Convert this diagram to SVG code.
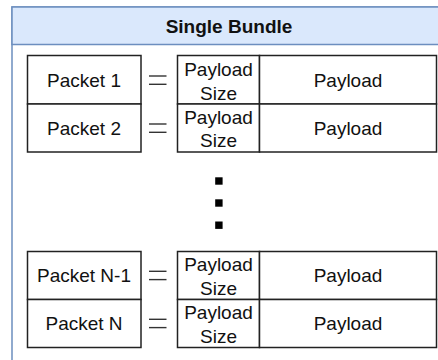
<svg xmlns="http://www.w3.org/2000/svg" width="438" height="360" viewBox="0 0 438 360">
<style>
.cell{fill:#ffffff;stroke:#222222;stroke-width:1.5}
.eq{stroke:#333333;stroke-width:1.4}
text{font-family:"Liberation Sans",Arial,sans-serif;font-size:19px;fill:#111111;text-anchor:middle}
.title{font-weight:bold}
.dot{fill:#000000}
</style>
<g id="bundle">
<rect x="12" y="7" width="434" height="400" fill="#ffffff" stroke="#6c8ebf" stroke-width="1.5"/>
<rect x="12" y="7" width="434" height="37.5" fill="#dae8fc" stroke="#6c8ebf" stroke-width="1.5"/>
<text class="title" x="229" y="33">Single Bundle</text>
</g>
<g id="row1">
<rect class="cell" x="27.5" y="55.5" width="113.5" height="48.5"/>
<text x="84" y="86.5">Packet 1</text>
<line class="eq" x1="149" y1="76" x2="166.5" y2="76"/><line class="eq" x1="149" y1="84.3" x2="166.5" y2="84.3"/>
<rect class="cell" x="177.5" y="55.5" width="82" height="48.5"/>
<text x="218.5" y="75.5">Payload</text><text x="218.5" y="99.5">Size</text>
<rect class="cell" x="259.5" y="55.5" width="177" height="48.5"/>
<text x="348" y="86.5">Payload</text>
</g>
<g id="row2">
<rect class="cell" x="27.5" y="104" width="113.5" height="48"/>
<text x="84" y="134.5">Packet 2</text>
<line class="eq" x1="149" y1="124" x2="166.5" y2="124"/><line class="eq" x1="149" y1="132.3" x2="166.5" y2="132.3"/>
<rect class="cell" x="177.5" y="104" width="82" height="48"/>
<text x="218.5" y="123.5">Payload</text><text x="218.5" y="147">Size</text>
<rect class="cell" x="259.5" y="104" width="177" height="48"/>
<text x="348" y="134.5">Payload</text>
</g>
<g id="ellipsis">
<rect class="dot" x="215.2" y="177.3" width="7.4" height="7.4"/>
<rect class="dot" x="215.2" y="199.3" width="7.4" height="7.4"/>
<rect class="dot" x="215.2" y="221.5" width="7.4" height="7.4"/>
</g>
<g id="rowN1">
<rect class="cell" x="27.5" y="251.5" width="113.5" height="48"/>
<text x="84" y="282">Packet N-1</text>
<line class="eq" x1="149" y1="271.3" x2="166.5" y2="271.3"/><line class="eq" x1="149" y1="279.6" x2="166.5" y2="279.6"/>
<rect class="cell" x="177.5" y="251.5" width="82" height="48"/>
<text x="218.5" y="271">Payload</text><text x="218.5" y="294.5">Size</text>
<rect class="cell" x="259.5" y="251.5" width="177" height="48"/>
<text x="348" y="282">Payload</text>
</g>
<g id="rowN">
<rect class="cell" x="27.5" y="299.5" width="113.5" height="48"/>
<text x="84" y="330">Packet N</text>
<line class="eq" x1="149" y1="319.3" x2="166.5" y2="319.3"/><line class="eq" x1="149" y1="327.6" x2="166.5" y2="327.6"/>
<rect class="cell" x="177.5" y="299.5" width="82" height="48"/>
<text x="218.5" y="319">Payload</text><text x="218.5" y="342.5">Size</text>
<rect class="cell" x="259.5" y="299.5" width="177" height="48"/>
<text x="348" y="330">Payload</text>
</g>
<g id="connectors"></g>
</svg>
